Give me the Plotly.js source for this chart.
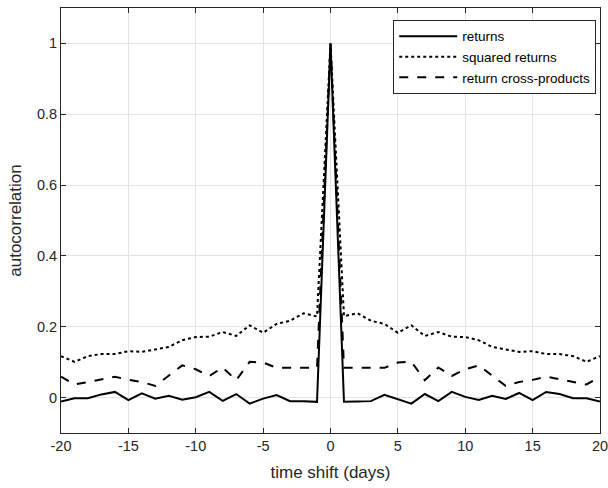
<!DOCTYPE html>
<html>
<head>
<meta charset="utf-8">
<script src="https://cdn.plot.ly/plotly-3.0.1.min.js"></script>
<style>html,body{margin:0;padding:0;background:#fff;}#chart{width:608px;height:488px;}</style>
</head>
<body>
<div id="chart"></div>
<script>
var lags = [-20,-19,-18,-17,-16,-15,-14,-13,-12,-11,-10,-9,-8,-7,-6,-5,-4,-3,-2,-1,0,1,2,3,4,5,6,7,8,9,10,11,12,13,14,15,16,17,18,19,20];
var returns = [-0.011,-0.002,-0.002,0.009,0.016,-0.007,0.012,-0.003,0.005,-0.006,0.001,0.016,-0.009,0.010,-0.017,-0.003,0.007,-0.010,-0.010,-0.012,1.0,-0.012,-0.011,-0.010,0.008,-0.005,-0.017,0.010,-0.010,0.016,0.002,-0.007,0.005,-0.004,0.013,-0.007,0.016,0.010,-0.002,-0.002,-0.011];
var squaredReturns = [0.117,0.101,0.117,0.123,0.123,0.131,0.129,0.136,0.143,0.162,0.171,0.172,0.185,0.174,0.204,0.183,0.208,0.217,0.238,0.229,1.0,0.230,0.238,0.217,0.208,0.183,0.204,0.174,0.185,0.172,0.171,0.162,0.143,0.136,0.129,0.131,0.123,0.123,0.117,0.101,0.117];
var crossProducts = [0.059,0.037,0.044,0.052,0.059,0.050,0.044,0.033,0.062,0.091,0.080,0.061,0.085,0.049,0.101,0.099,0.084,0.084,0.084,0.084,1.0,0.084,0.084,0.084,0.084,0.099,0.101,0.049,0.085,0.061,0.080,0.091,0.062,0.033,0.044,0.050,0.059,0.052,0.044,0.037,0.059];
var xTicks = [-20,-15,-10,-5,0,5,10,15,20];
var xTickText = ['-20','-15','-10','-5','0','5','10','15','20'];
var yTicks = [0,0.2,0.4,0.6,0.8,1];
var yTickText = ['0','0.2','0.4','0.6','0.8','1'];

var fontFam = 'Liberation Sans, Arial, Helvetica, sans-serif';
var traces = [
  {x: lags, y: returns, mode: 'lines', name: 'returns', line: {color: '#000', width: 2, dash: 'solid'}},
  {x: lags, y: squaredReturns, mode: 'lines', name: 'squared returns', line: {color: '#000', width: 2, dash: 'dot'}},
  {x: lags, y: crossProducts, mode: 'lines', name: 'return cross-products', line: {color: '#000', width: 2, dash: 'dash'}}
];
var axisCommon = {
  showgrid: true, gridcolor: '#e3e3e3', gridwidth: 1,
  showline: true, linecolor: '#262626', linewidth: 1, mirror: 'ticks',
  ticks: 'inside', ticklen: 5, tickcolor: '#262626', tickwidth: 1,
  zeroline: false, automargin: false, ticklabeloverflow: 'allow',
  tickfont: {family: fontFam, size: 14.5, color: '#262626'}
};
var layout = {
  width: 608, height: 488,
  margin: {l: 61, r: 8, t: 8, b: 55},
  paper_bgcolor: '#fff', plot_bgcolor: '#fff',
  font: {family: fontFam, color: '#262626'},
  xaxis: Object.assign({}, axisCommon, {
    range: [-20, 20], tickmode: 'array', tickvals: xTicks, ticktext: xTickText,
    title: {text: 'time shift (days)', font: {family: fontFam, size: 17, color: '#262626'}, standoff: 12}
  }),
  yaxis: Object.assign({}, axisCommon, {
    range: [-0.1, 1.1], tickmode: 'array', tickvals: yTicks, ticktext: yTickText,
    title: {text: 'autocorrelation', font: {family: fontFam, size: 17, color: '#262626'}, standoff: 10}
  }),
  showlegend: true,
  legend: {
    x: 0.993, y: 0.972, xanchor: 'right', yanchor: 'top',
    bgcolor: '#fff', bordercolor: '#262626', borderwidth: 1,
    font: {family: fontFam, size: 13.5, color: '#000'},
    itemwidth: 58, tracegroupgap: 0
  }
};
Plotly.newPlot('chart', traces, layout, {displayModeBar: false, staticPlot: true});
</script>
</body>
</html>
